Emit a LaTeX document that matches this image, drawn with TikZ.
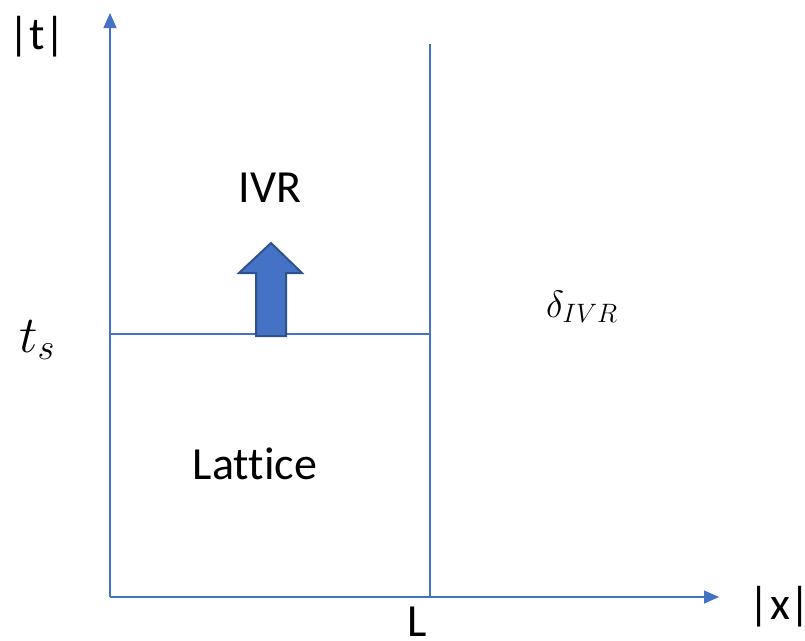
\RequirePackage{fix-cm}
\documentclass[tikz,border=0pt]{standalone}
\usepackage{fontspec}
\setmainfont{Carlito}[Ligatures=NoCommon]
\usetikzlibrary{arrows.meta}
\definecolor{axisblue}{HTML}{4472C4}
\definecolor{darkblue}{HTML}{2F528F}
\tikzset{
  axis/.style={draw=axisblue, line width=1.3pt, -{Triangle[length=15pt,width=13pt]}},
  gridline/.style={draw=axisblue, line width=1.3pt},
  lbl/.style={anchor=base, inner sep=0pt, font=\fontsize{46}{52}\selectfont},
  blockarrow/.style={fill=axisblue, draw=darkblue, line width=2pt, line join=miter}
}
\begin{document}
\begin{tikzpicture}[x=1pt, y=-1pt]
\useasboundingbox (0,0) rectangle (805,640);
\coordinate (O) at (110,597);
\coordinate (Ytop) at (110,13);
\coordinate (Xend) at (719,597);
\coordinate (Ltop) at (430,44);
\coordinate (Lbot) at (430,597);
\coordinate (Sleft) at (110,334);
\coordinate (Sright) at (430,334);
\draw[gridline] (Ltop) -- (Lbot);
\draw[gridline] (Sleft) -- (Sright);
\draw[axis] (O) -- (Ytop);
\draw[axis] (O) -- (Xend);
\draw[blockarrow] (256,336) -- (256,273) -- (239,273) -- (271,243) -- (302,273) -- (286,273) -- (286,336) -- cycle;
\node[lbl] (t) at (37,49) {|t|};
\node[lbl] (x) at (780,619) {|x|};
\node[lbl] (L) at (417,636) {L};
\node[lbl] (ivr) at (270,202) {IVR};
\node[lbl] (lat) at (255,479) {Lattice};
\node[lbl, font=\fontsize{52}{58}\selectfont] (ts) at (37,352) {$t_s$};
\node[lbl, font=\fontsize{38}{44}\selectfont] (delta) at (582,317) {$\delta_{IVR}$};
\end{tikzpicture}
\end{document}
